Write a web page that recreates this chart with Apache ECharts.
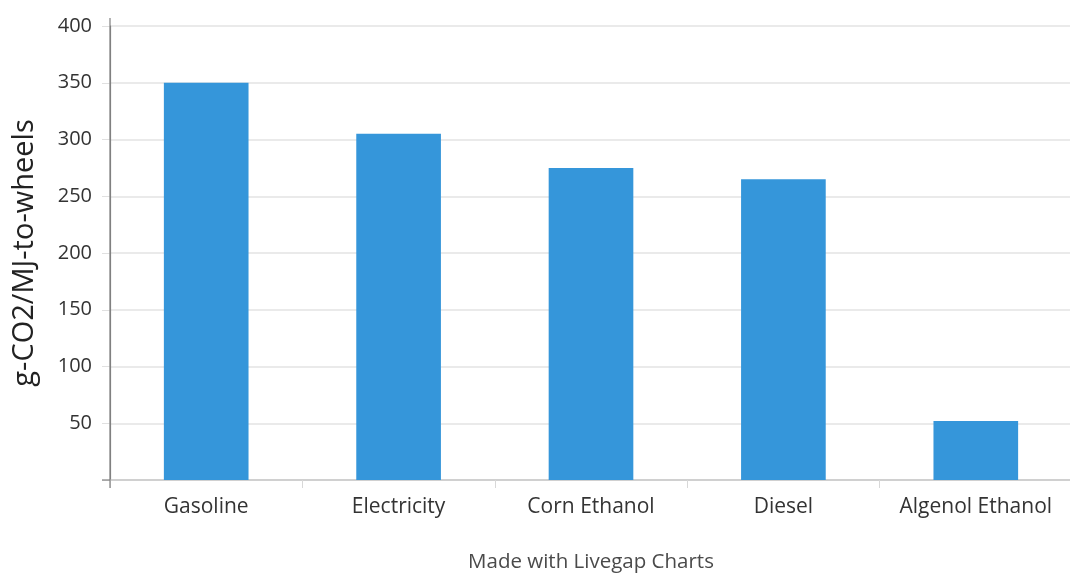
<!DOCTYPE html>
<html>
<head>
<meta charset="utf-8">
<style>
  html, body { margin: 0; padding: 0; background: #fff; }
  #chart { width: 1070px; height: 573px; }
</style>
<script src="https://cdn.jsdelivr.net/npm/echarts@6/dist/echarts.min.js"></script>
</head>
<body>
<div id="chart"></div>
<script>
// Well-to-wheels emissions by fuel
const categories = ['Gasoline', 'Electricity', 'Corn Ethanol', 'Diesel', 'Algenol Ethanol'];
const emissions = [350, 305, 275, 265, 52];
const yTicks = { min: 0, max: 400, interval: 50 };
const yAxisTitle = 'g-CO2/MJ-to-wheels';
const footerText = 'Made with Livegap Charts';

const FONT = '"Open Sans", "Noto Sans", sans-serif';
const chart = echarts.init(document.getElementById('chart'), null, { renderer: 'canvas' });

chart.setOption({
  animation: false,
  backgroundColor: '#ffffff',
  textStyle: { fontFamily: FONT },
  grid: { left: 110, right: -2, top: 26, bottom: 93, containLabel: false, outerBoundsMode: 'none' },
  xAxis: {
    type: 'category',
    data: categories,
    boundaryGap: true,
    axisLine: { show: true, lineStyle: { color: '#c8c8c8', width: 1.5 } },
    axisTick: { show: true, alignWithLabel: false, length: 8, lineStyle: { color: '#d8d8d8' } },
    axisLabel: { fontFamily: FONT, fontSize: 21, color: '#333', margin: 17, interval: 0, hideOverlap: false }
  },
  yAxis: {
    type: 'value',
    min: yTicks.min,
    max: yTicks.max,
    interval: yTicks.interval,
    name: yAxisTitle,
    nameLocation: 'middle',
    nameGap: 71,
    nameRotate: 90,
    nameTextStyle: { fontFamily: FONT, fontSize: 29, color: '#222' },
    axisLine: { show: true, lineStyle: { color: '#808080', width: 1.2 } },
    axisTick: { show: true, length: 8, lineStyle: { color: '#e0e0e0' } },
    axisLabel: {
      fontFamily: FONT, fontSize: 20, color: '#333', margin: 18,
      formatter: v => (v === 0 ? '' : String(v))
    },
    splitLine: { show: true, lineStyle: { color: '#e3e3e3', width: 1.5 } }
  },
  series: [{
    type: 'bar',
    data: emissions,
    barWidth: '44%',
    itemStyle: { color: '#3596da' }
  }]
});

// Axis-line overhangs and the footer, centred under the plot area
const originPx = chart.convertToPixel({ gridIndex: 0 }, [0, 0]);
const topPx = chart.convertToPixel({ gridIndex: 0 }, [0, yTicks.max]);
const step = chart.convertToPixel({ gridIndex: 0 }, [1, 0])[0] - originPx[0];
const axisX = originPx[0] - step / 2;
const plotCenterX = axisX + step * categories.length / 2;
chart.setOption({
  graphic: [
    { type: 'line', shape: { x1: axisX, y1: topPx[1] - 8, x2: axisX, y2: originPx[1] + 8 }, style: { stroke: '#808080', lineWidth: 1.2 }, z: 100 },
    { type: 'line', shape: { x1: axisX - 8, y1: originPx[1], x2: axisX, y2: originPx[1] }, style: { stroke: '#808080', lineWidth: 1.2 }, z: 100 },
    {
      type: 'text', x: plotCenterX, y: 562, z: 100,
      style: {
        text: footerText, fontFamily: FONT, fontSize: 20.5, fill: '#4a4a4a',
        align: 'center', verticalAlign: 'middle'
      }
    }
  ]
});
</script>
</body>
</html>
